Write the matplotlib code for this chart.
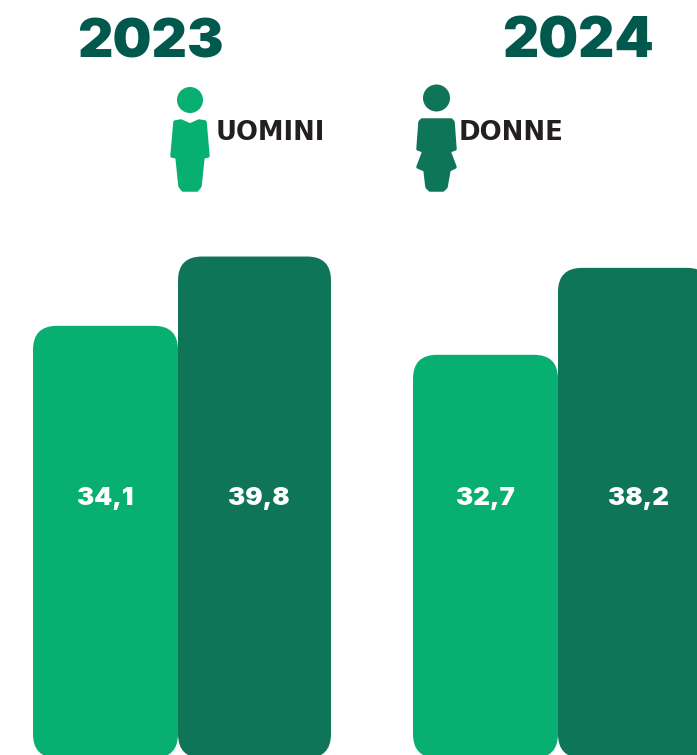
import matplotlib
matplotlib.use('Agg')
import matplotlib.pyplot as plt
from matplotlib.patches import FancyBboxPatch, Circle, PathPatch
from matplotlib.path import Path

years = ['2023', '2024']
groups = ['UOMINI', 'DONNE']
labels = ['34,1', '39,8', '32,7', '38,2']
# drawn heights, the bars are not quite to scale with their labels
heights = [34.3, 39.8, 32.0, 38.9]

bar_left = [33, 178, 413, 558]
bar_width = [145, 153, 145, 153]
label_x = [105.5, 258.5, 485.5, 638.5]
bar_colors = ['#07AF70', '#0F7558', '#07AF70', '#0F7558']
title_color = '#00594C'
text_color = '#231F20'

W, H = 697, 755
base_px = 758
px_per_unit = 12.6

plt.rcParams['font.family'] = ['Inter', 'DejaVu Sans']

fig = plt.figure(figsize=(W / 100, H / 100), dpi=100)
ax = fig.add_axes([0, 0, 1, 1])
ax.set_xlim(0, W)
ax.set_ylim((base_px - H) / px_per_unit, base_px / px_per_unit)
ax.axis('off')

bars = ax.bar(bar_left, heights, width=bar_width, align='edge', color='none')
for bar, c, lab, lx in zip(bars, bar_colors, labels, label_x):
    rounded = FancyBboxPatch((bar.get_x(), bar.get_y()), bar.get_width(), bar.get_height(),
                             boxstyle='round,pad=0,rounding_size=24',
                             mutation_aspect=1 / px_per_unit, fc=c, ec='none')
    ax.add_patch(rounded)
    ax.text(lx, (base_px - 499) / px_per_unit, lab,
            color='white', fontsize=18.5, fontweight='black', ha='center', va='center')

# overlay in pixel coordinates for heading and icons
top = fig.add_axes([0, 0, 1, 1])
top.set_xlim(0, W)
top.set_ylim(H, 0)
top.axis('off')

top.text(150, 43, years[0], color=title_color, fontsize=39.5, fontweight='black', ha='center', va='center')
top.text(578, 43, years[1], color=title_color, fontsize=40.5, fontweight='black', ha='center', va='center')
top.text(216, 133, groups[0], color=text_color, fontsize=18.5, fontweight='bold',
         family='DejaVu Sans', ha='left', va='center')
top.text(459, 133, groups[1], color=text_color, fontsize=18.7, fontweight='bold',
         family='DejaVu Sans', ha='left', va='center')

man = [(175, 122), (181, 121), (190, 125), (199, 121), (205, 122), (208, 156), (203, 157),
       (200, 186), (197, 190), (183, 190), (180, 186), (177, 157), (172, 156)]
woman = [(422, 120), (451, 120), (453, 122), (455, 149), (449, 151), (455, 167), (449, 170),
         (446, 187), (443, 190), (430, 190), (427, 187), (425, 170), (418, 167), (424, 151),
         (418, 149), (420, 122)]
for head, r, body, c in [((190, 100), 13, man, bar_colors[0]), ((436.5, 98), 13.5, woman, bar_colors[1])]:
    top.add_patch(Circle(head, r, fc=c, ec='none'))
    top.add_patch(PathPatch(Path(body + [body[0]], closed=True), fc=c, ec=c, lw=2.5, joinstyle='round'))

fig.savefig('out.png', dpi=100)
